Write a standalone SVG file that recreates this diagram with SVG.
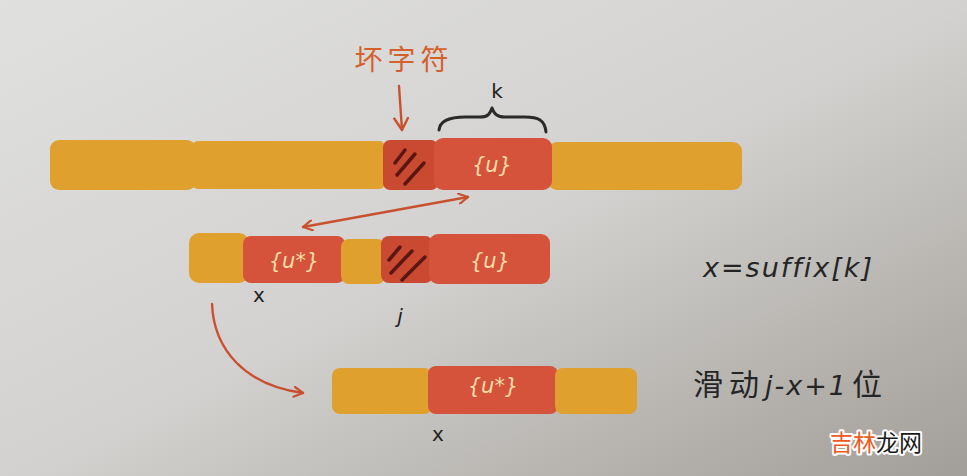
<svg xmlns="http://www.w3.org/2000/svg" width="967" height="476" viewBox="0 0 967 476">
<defs>
<linearGradient id="bg" x1="0" y1="0" x2="1" y2="1">
<stop offset="0" stop-color="#e0e0df"/>
<stop offset="0.5" stop-color="#d3d2d0"/>
<stop offset="1" stop-color="#a29e98"/>
</linearGradient>
<marker id="ah" viewBox="0 0 12 12" refX="10" refY="6" markerWidth="12" markerHeight="12" markerUnits="userSpaceOnUse" orient="auto-start-reverse">
<path d="M1,1 L10,6 L1,11" fill="none" stroke="#c8502e" stroke-width="2.2" stroke-linecap="round" stroke-linejoin="round"/>
</marker>
<marker id="ah2" viewBox="0 0 16 16" refX="13" refY="8" markerWidth="16" markerHeight="16" markerUnits="userSpaceOnUse" orient="auto-start-reverse">
<path d="M1,1 L13,8 L1,15" fill="none" stroke="#c8502e" stroke-width="2.4" stroke-linecap="round" stroke-linejoin="round"/>
</marker>
</defs>
<style>
.y{fill:#e0a02e}
.r{fill:#d4533a}
.h{fill:#c94a31}
.hatch{stroke:#5a1712;stroke-width:3.5;stroke-linecap:round}
.ct{font-family:"DejaVu Sans","Noto Sans",sans-serif;font-size:21px;fill:#f6dca8;font-style:italic}
.lbl{font-family:"DejaVu Sans","Noto Sans",sans-serif;font-size:20px;fill:#222}
.note{font-family:"DejaVu Sans","Noto Sans CJK SC",sans-serif;font-size:27px;fill:#252525;font-style:italic}
.cn{font-family:"Noto Sans CJK SC",sans-serif;font-size:30px}
.conn{fill:none;stroke:#c8502e;stroke-width:2.4;stroke-linecap:round}
</style>
<rect width="967" height="476" fill="url(#bg)"/>

<g id="top-bar">
<rect class="y" x="50" y="140" width="146" height="50" rx="9"/>
<rect class="y" x="192" y="141" width="193" height="48" rx="6"/>
<rect class="y" x="548" y="142" width="194" height="48" rx="9"/>
<rect class="h" x="383" y="140" width="55" height="50" rx="7"/>
<rect class="r" x="434" y="138" width="118" height="52" rx="9"/>
<line class="hatch" x1="395" y1="163" x2="405" y2="150"/>
<line class="hatch" x1="397" y1="175" x2="415" y2="154"/>
<line class="hatch" x1="405" y1="184" x2="424" y2="163"/>
<text class="ct" x="492" y="172" text-anchor="middle">{u}</text>
</g>

<g id="bad-char-label">
<text x="404" y="70" text-anchor="middle" font-family="Noto Sans CJK SC,sans-serif" font-size="28" letter-spacing="5" fill="#d4602c">坏字符</text>
</g>

<g id="brace-k">
<path d="M439,130 C440,120 450,117 465,117 L480,117 C488,117 490,114 492,108 C494,114 497,117 505,117 L525,117 C538,117 545,120 546,132" fill="none" stroke="#2a2a28" stroke-width="3" stroke-linecap="round" stroke-linejoin="round"/>
<text class="lbl" x="497" y="98" text-anchor="middle">k</text>
</g>

<g id="middle-bar">
<rect class="y" x="189" y="233" width="60" height="50" rx="10"/>
<rect class="r" x="243" y="236" width="102" height="47" rx="8"/>
<rect class="y" x="341" y="239" width="44" height="45" rx="8"/>
<rect class="h" x="381" y="236" width="52" height="47" rx="8"/>
<rect class="r" x="429" y="234" width="121" height="50" rx="9"/>
<line class="hatch" x1="389" y1="260" x2="400" y2="247"/>
<line class="hatch" x1="391" y1="273" x2="412" y2="251"/>
<line class="hatch" x1="402" y1="280" x2="425" y2="257"/>
<text class="ct" x="294" y="268" text-anchor="middle">{u*}</text>
<text class="ct" x="490" y="268" text-anchor="middle">{u}</text>
<text class="lbl" x="259" y="302" text-anchor="middle">x</text>
<text class="lbl" x="400" y="323" text-anchor="middle" font-style="italic">j</text>
</g>

<g id="bottom-bar">
<rect class="y" x="332" y="368" width="100" height="46" rx="8"/>
<rect class="r" x="428" y="366" width="130" height="48" rx="8"/>
<rect class="y" x="555" y="368" width="82" height="46" rx="8"/>
<text class="ct" x="493" y="393" text-anchor="middle">{u*}</text>
<text class="lbl" x="438" y="441" text-anchor="middle">x</text>
</g>

<g id="notes">
<text class="note" x="703" y="277" letter-spacing="2">x=suffix[k]</text>
<text class="note" x="693" y="395" letter-spacing="2"><tspan class="cn" font-style="normal" letter-spacing="6">滑动</tspan>j-x+1<tspan class="cn" font-style="normal" dx="4">位</tspan></text>
</g>

<g id="connectors">
<path class="conn" d="M399,86 L402,130" marker-end="url(#ah2)"/>
<path class="conn" d="M303,227 L468,197" marker-start="url(#ah)" marker-end="url(#ah)"/>
<path class="conn" d="M212,304 C214,350 245,385 303,393" marker-end="url(#ah)"/>
</g>

<g id="watermark">
<text x="830" y="451" font-family="Noto Sans CJK SC,sans-serif" font-size="23" stroke="#ffffff" stroke-width="4" stroke-linejoin="round" paint-order="stroke" fill="#ee5a1f">吉林<tspan fill="#1a1a1a">龙网</tspan></text>
</g>
</svg>
